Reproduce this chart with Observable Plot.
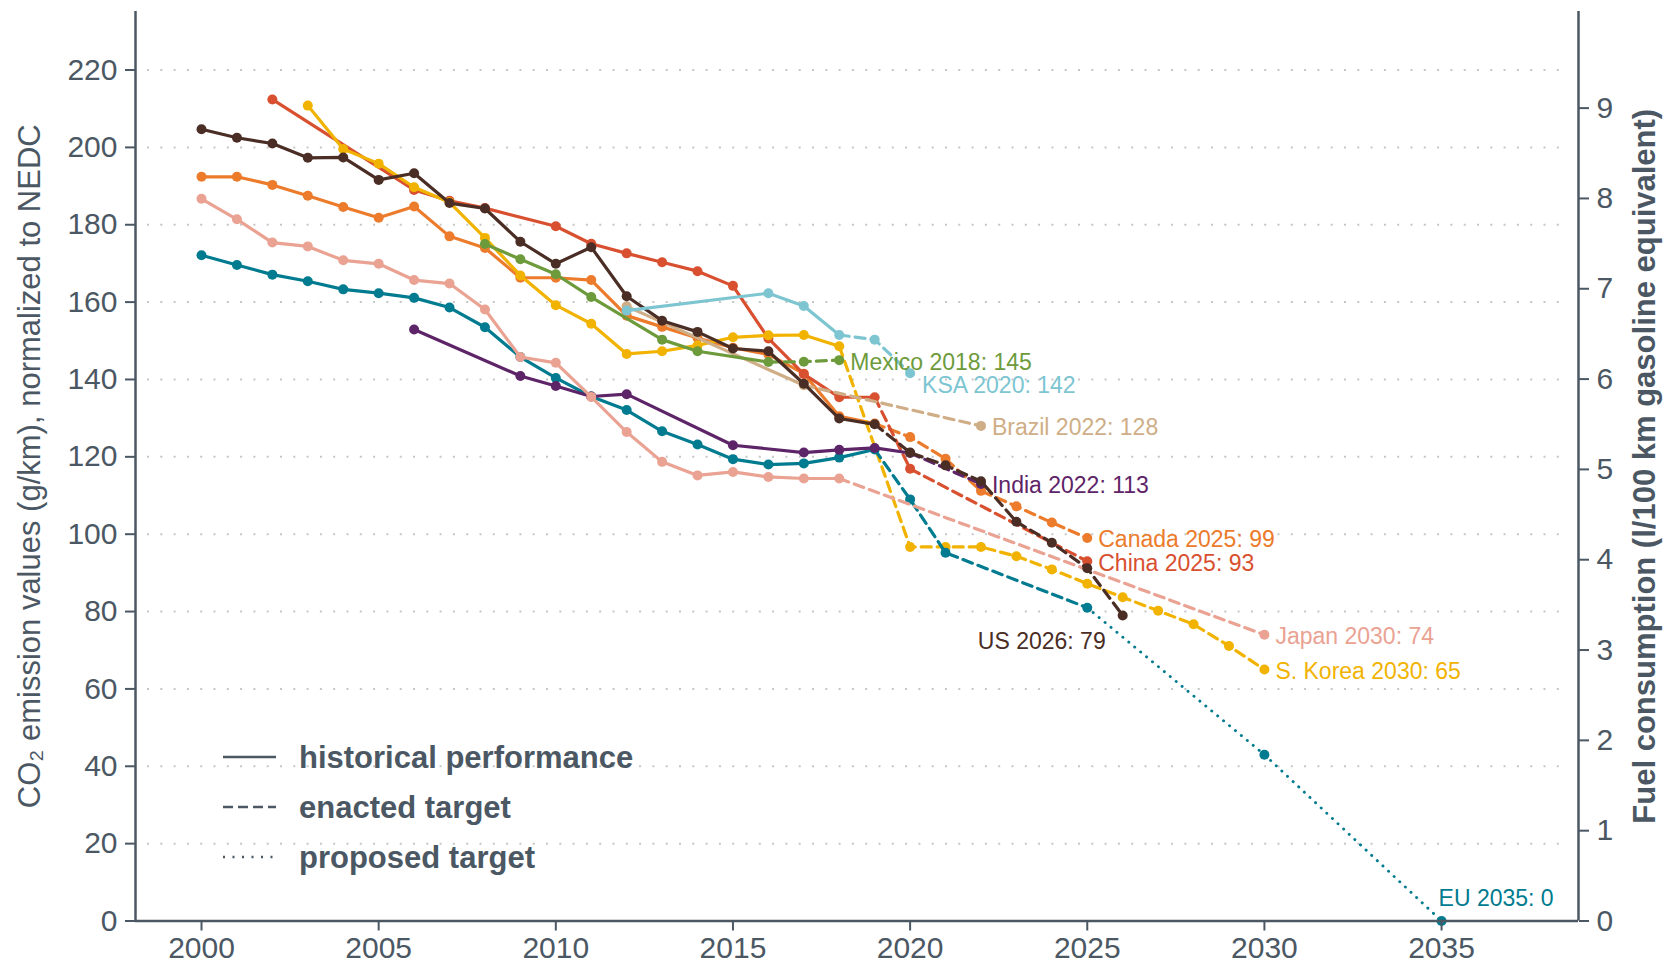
<!DOCTYPE html>
<html><head><meta charset="utf-8">
<script src="https://cdn.jsdelivr.net/npm/d3@7"></script>
<script src="https://cdn.jsdelivr.net/npm/@observablehq/plot@0.6"></script>
<style>
html,body{margin:0;padding:0;background:#fff;}
#wrap{position:relative;width:1670px;height:965px;overflow:hidden;}
#legend{position:absolute;left:0;top:0;pointer-events:none;}
</style></head><body><div id="wrap"></div>
<script>
// ---------- data ----------
const countries = ["Canada","China","S. Korea","Brazil","Mexico","EU","India","Japan","US","KSA"];
const countryColors = ["#ec7b2b","#d8502f","#f1b300","#cfae87","#6d9b3c","#007b8f","#5e2468","#eaa293","#4a2d24","#7cc5d1"];

const US_hist = [[2000,204.7],[2001,202.5],[2002,201.0],[2003,197.3],[2004,197.4],[2005,191.6],[2006,193.3],[2007,185.6],[2008,184.2],[2009,175.6],[2010,169.9],[2011,174.2],[2012,161.5],[2013,155.2],[2014,152.3],[2015,148.0],[2016,147.3],[2017,138.9],[2018,129.9],[2019,128.4]];
const US_enacted = [[2019,128.4],[2020,121.1],[2021,117.8],[2022,113.7],[2023,103.2],[2024,97.8],[2025,91.2],[2026,79]];

const Canada_hist = [[2000,192.4],[2001,192.4],[2002,190.3],[2003,187.5],[2004,184.6],[2005,181.8],[2006,184.7],[2007,177.0],[2008,174.0],[2009,166.3],[2010,166.3],[2011,165.7],[2012,156.5],[2013,153.6],[2014,150.7],[2015,148.2],[2016,146.5],[2017,141.5],[2018,130.5],[2019,128.6]];
const Canada_enacted = [[2019,128.6],[2020,125.1],[2021,119.5],[2022,111.2],[2023,107.2],[2024,103.0],[2025,99]];

const China_hist = [[2002,212.4],[2006,189.0],[2007,186.2],[2008,184.3],[2010,179.6],[2011,175.1],[2012,172.6],[2013,170.3],[2014,168.0],[2015,164.2],[2016,150.6],[2017,141.4],[2018,135.4],[2019,135.4]];
const China_enacted = [[2019,135.4],[2020,116.9],[2025,93]];

const Japan_hist = [[2000,186.7],[2001,181.4],[2002,175.4],[2003,174.4],[2004,170.8],[2005,169.9],[2006,165.7],[2007,164.8],[2008,158.1],[2009,145.8],[2010,144.3],[2011,135.5],[2012,126.4],[2013,118.7],[2014,115.2],[2015,116.1],[2016,114.8],[2017,114.4],[2018,114.4]];
const Japan_enacted = [[2018,114.4],[2030,74]];

const EU_hist = [[2000,172.1],[2001,169.6],[2002,167.1],[2003,165.4],[2004,163.3],[2005,162.3],[2006,161.1],[2007,158.6],[2008,153.5],[2009,145.8],[2010,140.4],[2011,135.6],[2012,132.1],[2013,126.6],[2014,123.2],[2015,119.4],[2016,118.0],[2017,118.3],[2018,119.8],[2019,121.9]];
const EU_enacted = [[2019,121.9],[2020,109.0],[2021,95.2],[2025,81]];
const EU_proposed = [[2025,81],[2030,43],[2035,0]];

const Korea_hist = [[2003,210.8],[2004,199.6],[2005,195.8],[2006,189.7],[2007,185.8],[2008,176.6],[2009,166.9],[2010,159.2],[2011,154.4],[2012,146.6],[2013,147.3],[2014,148.8],[2015,150.9],[2016,151.4],[2017,151.5],[2018,148.6]];
const Korea_enacted = [[2018,148.6],[2020,96.7],[2021,96.7],[2022,96.7],[2023,94.3],[2024,90.9],[2025,87.2],[2026,83.7],[2027,80.2],[2028,76.7],[2029,71.1],[2030,65]];

const Mexico_hist = [[2008,175.0],[2009,171.1],[2010,167.2],[2011,161.3],[2013,150.3],[2014,147.3],[2016,144.5]];
const Mexico_enacted = [[2016,144.5],[2017,144.6],[2018,145]];

const KSA_hist = [[2012,157.8],[2016,162.3],[2017,159.0],[2018,151.5]];
const KSA_enacted = [[2018,151.5],[2019,150.3],[2020,141.6]];

const Brazil_hist = [[2012,158.9],[2017,138.5]];
const Brazil_enacted = [[2017,138.5],[2022,128]];

const India_hist = [[2006,152.9],[2009,140.9],[2010,138.3],[2011,135.6],[2012,136.2],[2015,123.0],[2017,121.1],[2018,121.8],[2019,122.3],[2020,121.0]];
const India_enacted = [[2020,121.0],[2022,113]];

const xTicks = [2000,2005,2010,2015,2020,2025,2030,2035];
const yTicks = [0,20,40,60,80,100,120,140,160,180,200,220];
const gridValues = [20,40,60,80,100,120,140,160,180,200,220];
const fuelTicks = [0,1,2,3,4,5,6,7,8,9];
const fuelFactor = 23.35; // g CO2/km per l/100 km
const legendLabels = ["historical performance","enacted target","proposed target"];
const yTitle = "CO\u2082 emission values (g/km), normalized to NEDC";
const y2Title = "Fuel consumption (l/100 km gasoline equivalent)";

// ---------- assemble ----------
const seriesList = [
  {country:"Canada", hist:Canada_hist, enacted:Canada_enacted},
  {country:"China", hist:China_hist, enacted:China_enacted},
  {country:"S. Korea", hist:Korea_hist, enacted:Korea_enacted},
  {country:"Brazil", hist:Brazil_hist, enacted:Brazil_enacted},
  {country:"Mexico", hist:Mexico_hist, enacted:Mexico_enacted},
  {country:"EU", hist:EU_hist, enacted:EU_enacted, proposed:EU_proposed},
  {country:"India", hist:India_hist, enacted:India_enacted},
  {country:"Japan", hist:Japan_hist, enacted:Japan_enacted},
  {country:"US", hist:US_hist, enacted:US_enacted},
  {country:"KSA", hist:KSA_hist, enacted:KSA_enacted}
];
const toRows = (arr, country, kind) => (arr||[]).map(([year,value]) => ({country, kind, year, value}));

const endLabel = (s) => {
  const last = (s.proposed || s.enacted).at(-1);
  return {country: s.country, year: last[0], value: last[1], text: `${s.country} ${last[0]}: ${Math.round(last[1])}`};
};
const labels = seriesList.map(endLabel);
const rightLabels = labels.filter(d => !["US","EU","KSA"].includes(d.country));

const axisColor = "#4b5864";
const font = "'Liberation Sans', Arial, Helvetica, sans-serif";
const xDomain = [1998.137, 2038.865];
const yDomain = [0, 235.13];

const marks = [
  Plot.ruleY(gridValues, {stroke:"#c6c6c6", strokeWidth:2, strokeDasharray:"2,11.3", insetLeft:12, insetRight:12}),
];
for (const s of seriesList) {
  const h = toRows(s.hist, s.country, "hist");
  const e = toRows(s.enacted, s.country, "enacted");
  const p = toRows(s.proposed, s.country, "proposed");
  marks.push(Plot.line(h, {x:"year", y:"value", stroke:"country", strokeWidth:3.2, strokeLinejoin:"round"}));
  marks.push(Plot.line(e, {x:"year", y:"value", stroke:"country", strokeWidth:3.2, strokeDasharray:"10,6"}));
  if (p.length) marks.push(Plot.line(p, {x:"year", y:"value", stroke:"country", strokeWidth:2.9, strokeDasharray:"0.1,7.6", strokeLinecap:"round"}));
  marks.push(Plot.dot([...h, ...e.slice(1), ...p.slice(1)], {x:"year", y:"value", fill:"country", r:5}));
}
marks.push(
  Plot.ruleX([xDomain[0]], {stroke:axisColor, strokeWidth:2.5}),
  Plot.ruleX([xDomain[1]], {stroke:axisColor, strokeWidth:2.5}),
  Plot.ruleY([0], {stroke:axisColor, strokeWidth:2.5}),
  Plot.axisX({ticks:xTicks, tickFormat:d=>String(d), tickSize:10, tickPadding:6, label:null, strokeWidth:2}),
  Plot.axisY({ticks:yTicks, anchor:"left", tickSize:10, tickPadding:8, label:null, strokeWidth:2}),
  Plot.axisY({ticks:fuelTicks.map(k=>k*fuelFactor), anchor:"right", tickFormat:d=>String(Math.round(d/fuelFactor)), tickSize:10, tickPadding:8, label:null, strokeWidth:2}),
  Plot.text([yTitle], {frameAnchor:"left", rotate:-90, dx:-105, textAnchor:"middle", lineAnchor:"middle", fontSize:31, fill:axisColor}),
  Plot.text([y2Title], {frameAnchor:"right", rotate:-90, dx:67, textAnchor:"middle", lineAnchor:"middle", fontSize:31, fontWeight:"bold", fill:axisColor}),
  Plot.text(rightLabels, {x:"year", y:"value", text:"text", fill:"country", textAnchor:"start", dx:11, dy:2, fontSize:23}),
  Plot.text(labels.filter(d=>d.country==="US"), {x:"year", y:"value", text:"text", fill:"country", textAnchor:"end", dx:-17, dy:26, fontSize:23}),
  Plot.text(labels.filter(d=>d.country==="EU"), {x:"year", y:"value", text:"text", fill:"country", textAnchor:"start", dx:-3, dy:-22, fontSize:23}),
  Plot.text(labels.filter(d=>d.country==="KSA"), {x:"year", y:"value", text:"text", fill:"country", textAnchor:"start", dx:12, dy:12, fontSize:23})
);

const chart = Plot.plot({
  width:1670, height:965,
  marginLeft:135, marginRight:92, marginTop:11, marginBottom:44.5,
  x:{domain:xDomain, axis:null},
  y:{domain:yDomain, axis:null},
  color:{domain:countries, range:countryColors},
  style:{fontFamily:font, fontSize:"30px", color:axisColor, background:"#fff", overflow:"visible"},
  marks
});
const wrap = document.getElementById("wrap");
wrap.appendChild(chart);

// ---------- legend overlay ----------
const ns = "http://www.w3.org/2000/svg";
const lg = document.createElementNS(ns, "svg");
lg.setAttribute("id","legend"); lg.setAttribute("width","1670"); lg.setAttribute("height","965");
const dashes = ["none","10,5","2,7.5"];
legendLabels.forEach((t,i) => {
  const y = 757 + i*50;
  const ln = document.createElementNS(ns, "line");
  ln.setAttribute("x1",223); ln.setAttribute("x2",276); ln.setAttribute("y1",y); ln.setAttribute("y2",y);
  ln.setAttribute("stroke",axisColor); ln.setAttribute("stroke-width",2.6);
  if (dashes[i] !== "none") ln.setAttribute("stroke-dasharray",dashes[i]);
  lg.appendChild(ln);
  const tx = document.createElementNS(ns, "text");
  tx.setAttribute("x",299); tx.setAttribute("y",y+11);
  tx.setAttribute("fill",axisColor); tx.setAttribute("font-family",font);
  tx.setAttribute("font-size","31"); tx.setAttribute("font-weight","bold");
  tx.textContent = t;
  lg.appendChild(tx);
});
wrap.appendChild(lg);
</script></body></html>
